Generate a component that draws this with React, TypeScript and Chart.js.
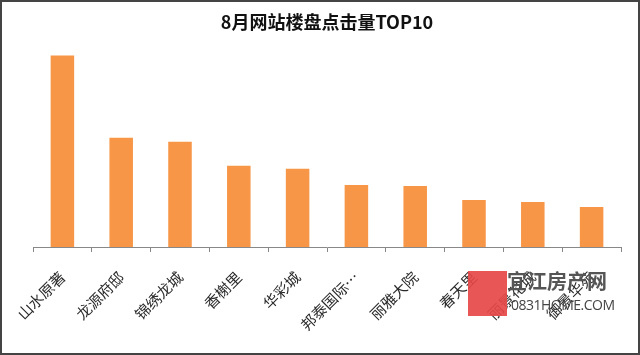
import React, { useEffect, useRef } from "react";
import { Chart, registerables } from "chart.js";

Chart.register(...registerables);

const titleText = "8月网站楼盘点击量TOP10";
const categories = ["山水原著", "龙源府邸", "锦绣龙城", "香榭里", "华彩城", "邦泰国际…", "丽雅大院", "春天里", "丽景花城", "御景华苑"];
const clicks = [191, 109, 105, 81, 78, 62, 61, 47, 45, 40];
const yMax = 200;

export default function App() {
  const ref = useRef<HTMLCanvasElement | null>(null);

  useEffect(() => {
    document.body.style.margin = "0";
    const canvas = ref.current;
    if (!canvas) return;
    const chart = new Chart(canvas, {
      type: "bar",
      data: {
        labels: categories,
        datasets: [
          {
            data: clicks,
            backgroundColor: "#F79646",
            borderWidth: 0,
            barPercentage: 0.4,
            categoryPercentage: 1,
          },
        ],
      },
      options: {
        responsive: false,
        animation: false,
        layout: { padding: { left: 33, right: 19, top: 0, bottom: 0 } },
        plugins: {
          legend: { display: false },
          tooltip: { enabled: false },
          title: {
            display: true,
            text: titleText,
            color: "#111",
            font: { family: "'Noto Sans CJK SC', sans-serif", size: 18, weight: "bold" },
            padding: { top: 11, bottom: 14 },
          },
        },
        scales: {
          x: {
            grid: {
              display: true,
              drawOnChartArea: false,
              drawTicks: true,
              tickLength: 5,
              color: "#888",
              offset: true,
            },
            border: { display: true, color: "#888", width: 1 },
            ticks: {
              autoSkip: false,
              maxRotation: 45,
              minRotation: 45,
              padding: 16,
              color: "#2a2a2a",
              font: { family: "'Noto Sans CJK SC', serif", size: 15 },
            },
            afterFit: (scale: any) => {
              scale.height = 108;
            },
          },
          y: {
            display: false,
            min: 0,
            max: yMax,
          },
        },
      },
    });
    return () => chart.destroy();
  }, []);

  return (
    <div style={{ position: "absolute", left: 0, top: 0, width: 640, height: 355, background: "#fff", overflow: "hidden" }}>
      <canvas ref={ref} width={640} height={355} style={{ position: "absolute", left: 0, top: 0 }} />
      <div
        style={{
          position: "absolute",
          left: 468,
          top: 271,
          width: 39,
          height: 45,
          background: "#E64848",
          opacity: 0.92,
        }}
      />
      <div
        style={{
          position: "absolute",
          left: 507,
          top: 268,
          fontFamily: "'Noto Sans CJK SC', sans-serif",
          fontWeight: "bold",
          fontSize: 20,
          color: "#555",
          lineHeight: "26px",
          whiteSpace: "nowrap",
        }}
      >
        宜江房产网
      </div>
      <div
        style={{
          position: "absolute",
          left: 511,
          top: 296,
          fontFamily: "'Open Sans', sans-serif",
          fontSize: 14,
          color: "#444",
          lineHeight: "18px",
          whiteSpace: "nowrap",
          letterSpacing: "-0.5px",
        }}
      >
        0831HOME.COM
      </div>
      <div
        style={{
          position: "absolute",
          left: 0,
          top: 0,
          width: 640,
          height: 355,
          boxSizing: "border-box",
          border: "2px solid #444",
          pointerEvents: "none",
        }}
      />
    </div>
  );
}
